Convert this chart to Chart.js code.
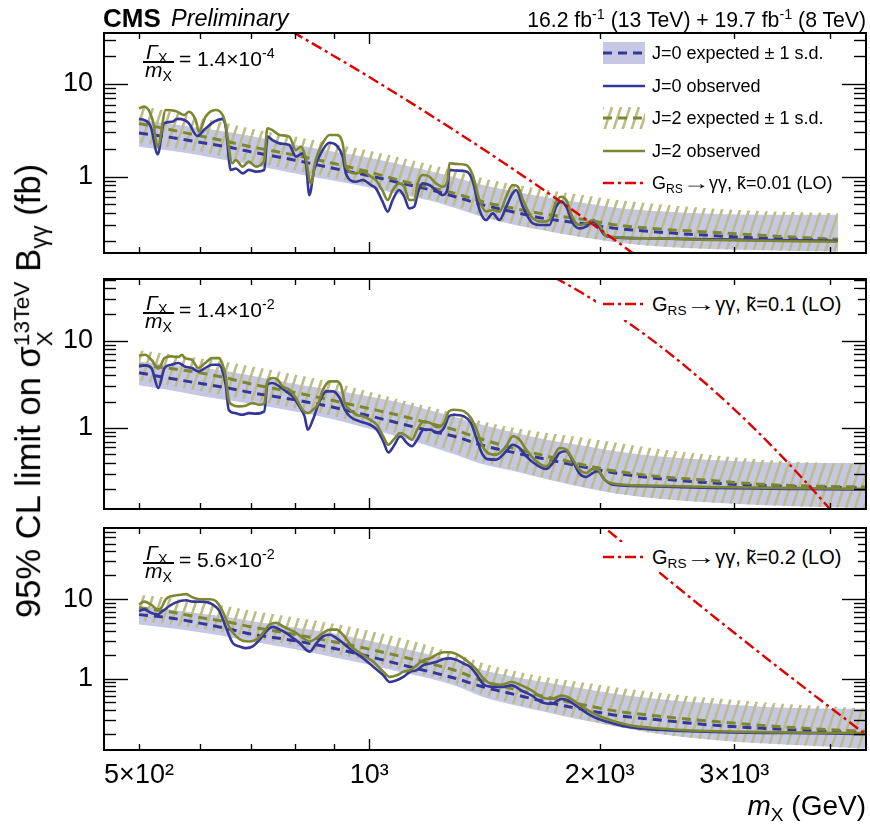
<!DOCTYPE html>
<html>
<head>
<meta charset="utf-8">
<title>CMS diphoton limits</title>
<script src="https://cdn.jsdelivr.net/npm/chart.js@4.4.1/dist/chart.umd.min.js"></script>
<style>
  html, body { margin:0; padding:0; background:#fff; }
  body { position:relative; width:870px; height:831px; overflow:hidden;
         font-family:"Liberation Sans", Arial, Helvetica, sans-serif; color:#000; }
  canvas { position:absolute; left:0; }
  .t { position:absolute; white-space:nowrap; line-height:1; }
  sup.s { font-size:0.68em; vertical-align:0.55em; line-height:0; }
  sub.s { font-size:0.68em; vertical-align:-0.3em; line-height:0; }
  .bar { position:absolute; height:1.6px; background:#000; }
  .legbox { position:absolute; background:#fff; }
  .sym { position:absolute; }
  .arr { display:inline-block; transform:scaleX(1.5); margin:0 0.22em; }
</style>
</head>
<body>
<canvas id="c1" width="870" height="265" style="top:0px"></canvas>
<canvas id="c2" width="870" height="250" style="top:265px"></canvas>
<canvas id="c3" width="870" height="316" style="top:515px"></canvas>

<!-- header -->
<div class="t" style="left:103px;top:5px;font-size:26px;font-weight:bold;">CMS</div>
<div class="t" style="left:171px;top:7px;font-size:23.5px;font-style:italic;">Preliminary</div>
<div class="t" style="right:4px;top:9px;font-size:21.2px;">16.2 fb<sup class="s">-1</sup> (13 TeV) + 19.7 fb<sup class="s">-1</sup> (8 TeV)</div>

<!-- axis titles -->
<div class="t" style="left:33px;top:391px;font-size:34.6px;transform:translate(-50%,-50%) rotate(-90deg);">95% CL limit on σ<span style="display:inline-block;vertical-align:-0.5em;font-size:0.66em;line-height:1.0;text-align:left;"><span style="display:block">13TeV</span><span style="display:block">X</span></span> B<sub class="s">γγ</sub> (fb)</div>
<div class="t" style="right:4px;top:792px;font-size:28px;"><i>m</i><sub class="s">X</sub> (GeV)</div>

<!-- width labels -->
<div class="t" style="left:146px;top:41px;font-size:21px;"><i>Γ</i><sub class="s">X</sub></div>
<div class="bar" style="left:143px;top:61px;width:31px;"></div>
<div class="t" style="left:145px;top:59px;font-size:21px;"><i>m</i><sub class="s">X</sub></div>
<div class="t" style="left:179px;top:48px;font-size:21px;">= 1.4×10<sup class="s">-4</sup></div>

<div class="t" style="left:146px;top:292px;font-size:21px;"><i>Γ</i><sub class="s">X</sub></div>
<div class="bar" style="left:143px;top:312px;width:31px;"></div>
<div class="t" style="left:145px;top:310px;font-size:21px;"><i>m</i><sub class="s">X</sub></div>
<div class="t" style="left:179px;top:299px;font-size:21px;">= 1.4×10<sup class="s">-2</sup></div>

<div class="t" style="left:146px;top:542px;font-size:21px;"><i>Γ</i><sub class="s">X</sub></div>
<div class="bar" style="left:143px;top:562px;width:31px;"></div>
<div class="t" style="left:145px;top:560px;font-size:21px;"><i>m</i><sub class="s">X</sub></div>
<div class="t" style="left:179px;top:549px;font-size:21px;">= 5.6×10<sup class="s">-2</sup></div>

<!-- legend panel 1 -->
<svg class="sym" style="left:603px;top:42px" width="42" height="22"><rect width="42" height="22" fill="#c6c7e5"/><line x1="0" y1="11" x2="42" y2="11" stroke="#34379a" stroke-width="3" stroke-dasharray="9 6"/></svg>
<div class="t" style="left:652px;top:44px;font-size:18px;">J=0 expected ± 1 s.d.</div>
<svg class="sym" style="left:603px;top:75px" width="42" height="22"><line x1="0" y1="11" x2="42" y2="11" stroke="#34379a" stroke-width="2.6"/></svg>
<div class="t" style="left:652px;top:77px;font-size:18px;">J=0 observed</div>
<svg class="sym" style="left:603px;top:107px" width="42" height="22"><defs><pattern id="hp" width="9" height="27" patternUnits="userSpaceOnUse"><path d="M-9,27 L0,0 M0,27 L9,0 M9,27 L18,0" stroke="#bcbc85" stroke-width="2.6"/></pattern></defs><rect width="42" height="22" fill="url(#hp)"/><line x1="0" y1="11" x2="42" y2="11" stroke="#7d8630" stroke-width="3" stroke-dasharray="9 6"/></svg>
<div class="t" style="left:652px;top:109px;font-size:18px;">J=2 expected ± 1 s.d.</div>
<svg class="sym" style="left:603px;top:140px" width="42" height="22"><line x1="0" y1="11" x2="42" y2="11" stroke="#7d8630" stroke-width="2.6"/></svg>
<div class="t" style="left:652px;top:142px;font-size:18px;">J=2 observed</div>
<svg class="sym" style="left:603px;top:172px" width="42" height="22"><line x1="0" y1="11" x2="42" y2="11" stroke="#e00000" stroke-width="2.4" stroke-dasharray="11 4 3 4"/></svg>
<div class="t" style="left:652px;top:174px;font-size:18px;">G<sub class="s">RS</sub><span class="arr">→</span>γγ, k&#771;=0.01 (LO)</div>

<!-- legend panel 2 -->
<div class="legbox" style="left:596px;top:289px;width:262px;height:31px;"></div>
<svg class="sym" style="left:603px;top:293px" width="42" height="22"><line x1="0" y1="11" x2="42" y2="11" stroke="#e00000" stroke-width="2.4" stroke-dasharray="11 4 3 4"/></svg>
<div class="t" style="left:652px;top:294px;font-size:20px;">G<sub class="s">RS</sub><span class="arr">→</span>γγ, k&#771;=0.1 (LO)</div>

<!-- legend panel 3 -->
<div class="legbox" style="left:596px;top:542px;width:262px;height:30px;"></div>
<svg class="sym" style="left:603px;top:546px" width="42" height="22"><line x1="0" y1="11" x2="42" y2="11" stroke="#e00000" stroke-width="2.4" stroke-dasharray="11 4 3 4"/></svg>
<div class="t" style="left:652px;top:547px;font-size:20px;">G<sub class="s">RS</sub><span class="arr">→</span>γγ, k&#771;=0.2 (LO)</div>

<script>
// ---------------- axes ----------------
const xMin = 450, xMax = 4460;
const xTickValues = [500, 1000, 2000, 3000];
const xTickLabels = ['5×10²', '10³', '2×10³', '3×10³'];
const yTickValues = [1, 10];
const yTickLabels = ['1', '10'];
const p1YRange = [0.149, 35.6];
const p2YRange = [0.118, 51];
const p3YRange = [0.126, 79];

// ---------------- panel 1 (Γ/m = 1.4e-4) ----------------
const p1BandMass = [500,550,600,650,700,800,900,1000,1100,1200,1300,1400,1550,1700,1900,2100,2400,2800,3300,4100];
const p1J0Exp = [2.95,2.65,2.35,2.1,1.85,1.5,1.22,1.02,0.85,0.72,0.6,0.5,0.41,0.35,0.31,0.275,0.25,0.23,0.215,0.205];
const p1J0Hi  = [4.1,3.7,3.35,3.05,2.75,2.2,1.85,1.6,1.35,1.15,0.97,0.82,0.69,0.6,0.52,0.46,0.42,0.395,0.385,0.385];
const p1J0Lo  = [2.1,1.9,1.7,1.5,1.35,1.08,0.9,0.76,0.64,0.55,0.45,0.37,0.3,0.26,0.22,0.195,0.175,0.165,0.16,0.155];
const p1J2Exp = [3.75,3.2,2.75,2.4,2.1,1.7,1.38,1.12,0.9,0.76,0.65,0.54,0.45,0.39,0.345,0.3,0.27,0.25,0.23,0.21];
const p1J2Hi  = [5.9,5.0,4.3,3.8,3.3,2.7,2.25,1.9,1.6,1.35,1.15,0.97,0.82,0.72,0.63,0.56,0.5,0.45,0.42,0.4];
const p1J2Lo  = [2.3,2.05,1.85,1.62,1.45,1.16,0.96,0.8,0.67,0.57,0.47,0.38,0.305,0.262,0.22,0.195,0.175,0.165,0.16,0.155];
const p1J0Obs = [[500,4.18],[508,4.08],[518,3.46],[529,1.74],[539,3.75],[553,3.91],[561,4.2],[573,4.08],[581,3.75],[596,2.74],[608,3.18],[627,3.91],[643,4.2],[649,3.46],[659,1.18],[669,1.22],[683,1.08],[696,1.18],[711,1.13],[729,1.18],[736,2.7],[747,2.48],[763,2.28],[786,2.19],[802,1.64],[818,1.78],[826,1.45],[835,0.63],[847,1.18],[869,1.93],[887,2.32],[905,2.19],[923,1.64],[932,1.08],[961,0.879],[980,0.917],[1005,0.809],[1020,0.745],[1041,0.535],[1057,0.417],[1073,0.557],[1094,0.715],[1111,0.605],[1128,0.453],[1145,0.472],[1157,0.658],[1174,0.844],[1198,0.809],[1222,0.715],[1247,0.631],[1266,0.745],[1273,1.18],[1299,1.16],[1339,1.13],[1365,0.9],[1393,0.44],[1421,0.339],[1450,0.4],[1480,0.339],[1510,0.472],[1540,0.658],[1556,0.715],[1588,0.472],[1636,0.312],[1686,0.299],[1720,0.299],[1755,0.472],[1782,0.535],[1809,0.472],[1846,0.312],[1883,0.275],[1921,0.287],[1960,0.325],[1990,0.299],[2030,0.233],[2082,0.22],[2301,0.215],[2813,0.209],[4093,0.202]];
const p1J2Obs = [[500,5.46],[508,5.69],[521,4.08],[529,2.1],[542,5.23],[558,5.1],[573,4.62],[581,5.02],[593,4.08],[599,3.05],[611,4.43],[630,5.23],[643,4.62],[649,3.6],[662,1.39],[669,1.51],[683,1.28],[696,1.45],[711,1.28],[725,1.39],[729,1.51],[736,3.32],[747,3.18],[763,2.81],[786,2.7],[802,1.93],[814,2.1],[826,1.57],[839,0.844],[851,1.51],[869,2.28],[887,2.81],[905,2.81],[923,2.28],[932,1.28],[961,1.08],[980,1.13],[1005,1.0],[1020,0.917],[1041,0.7],[1057,0.557],[1073,0.715],[1094,0.844],[1111,0.776],[1128,0.557],[1145,0.557],[1157,0.844],[1174,1.04],[1198,1.0],[1222,0.844],[1247,0.776],[1266,0.917],[1273,1.39],[1299,1.37],[1339,1.33],[1365,1.04],[1393,0.557],[1421,0.42],[1450,0.435],[1480,0.417],[1510,0.605],[1540,0.809],[1564,0.776],[1588,0.557],[1636,0.353],[1686,0.325],[1720,0.339],[1755,0.535],[1782,0.605],[1809,0.557],[1846,0.353],[1883,0.299],[1921,0.312],[1960,0.339],[2000,0.299],[2041,0.228],[2301,0.215],[2813,0.206],[4093,0.197]];
const p1Theory = [[750,47.6],[800,35.2],[900,20.0],[1000,11.9],[1100,7.32],[1200,4.66],[1300,3.05],[1400,2.05],[1500,1.40],[1600,0.978],[1700,0.694],[1800,0.50],[1900,0.365],[2000,0.27],[2100,0.202],[2200,0.153],[2300,0.117]];

// ---------------- panel 2 (Γ/m = 1.4e-2) ----------------
const p2BandMass = [500,550,600,650,700,800,900,1000,1100,1200,1300,1400,1550,1700,1900,2100,2400,2800,3300,3900,4600];
const p2J0Exp = [4.3,3.7,3.25,2.9,2.55,2.1,1.72,1.38,1.12,0.93,0.79,0.64,0.52,0.44,0.36,0.305,0.262,0.235,0.218,0.21,0.205];
const p2J0Hi  = [5.8,5.3,4.9,4.5,4.0,3.2,2.7,2.3,1.95,1.6,1.32,1.1,0.88,0.74,0.63,0.54,0.47,0.43,0.405,0.397,0.397];
const p2J0Lo  = [3.1,2.7,2.35,2.1,1.9,1.55,1.25,0.98,0.78,0.62,0.49,0.39,0.32,0.26,0.21,0.178,0.155,0.14,0.13,0.124,0.12];
const p2J2Exp = [5.3,4.8,4.3,3.75,3.2,2.55,2.05,1.67,1.38,1.13,0.94,0.75,0.58,0.48,0.38,0.32,0.277,0.25,0.225,0.215,0.21];
const p2J2Hi  = [7.8,7.0,6.3,5.7,5.1,4.1,3.3,2.6,2.1,1.75,1.45,1.2,1.0,0.88,0.78,0.68,0.57,0.49,0.43,0.4,0.38];
const p2J2Lo  = [3.5,3.05,2.65,2.35,2.1,1.7,1.36,1.06,0.84,0.66,0.52,0.41,0.33,0.265,0.212,0.178,0.155,0.14,0.13,0.124,0.12];
const p2J0Obs = [[500,5.08],[509,5.22],[519,4.86],[530,2.87],[540,4.86],[551,5.31],[563,5.55],[574,5.08],[586,4.86],[598,4.45],[610,4.86],[623,5.31],[636,5.31],[642,4.65],[649,3.14],[655,1.62],[668,1.48],[682,1.42],[696,1.48],[710,1.46],[729,1.55],[736,3.14],[747,3.28],[763,3.0],[778,2.63],[794,2.3],[810,1.77],[823,1.36],[831,0.957],[844,1.25],[861,2.02],[879,2.63],[897,2.63],[915,2.2],[929,1.62],[943,1.36],[972,1.19],[1002,1.09],[1023,0.957],[1043,0.704],[1059,0.526],[1076,0.617],[1098,0.803],[1120,0.673],[1137,0.617],[1155,0.735],[1178,0.957],[1202,0.957],[1227,0.877],[1252,1.0],[1271,1.36],[1290,1.42],[1330,1.36],[1358,1.14],[1385,0.7],[1406,0.5],[1428,0.44],[1465,0.434],[1510,0.541],[1540,0.644],[1572,0.59],[1604,0.474],[1653,0.38],[1703,0.34],[1738,0.397],[1773,0.517],[1809,0.541],[1846,0.415],[1883,0.3],[1921,0.275],[1960,0.305],[1990,0.319],[2030,0.256],[2082,0.224],[2301,0.215],[2813,0.206],[3722,0.2],[4600,0.197]];
const p2J2Obs = [[500,6.74],[509,6.91],[519,6.06],[530,4.8],[540,6.33],[551,6.62],[563,6.5],[569,6.91],[574,6.33],[586,6.06],[598,4.86],[610,5.55],[623,6.33],[636,6.33],[642,5.55],[649,3.91],[655,2.11],[662,1.85],[675,1.77],[689,1.8],[703,1.93],[718,1.85],[729,1.93],[736,3.42],[747,3.74],[759,3.58],[770,3.0],[786,2.75],[802,2.2],[818,1.62],[831,1.48],[844,1.62],[856,1.85],[870,2.75],[888,3.42],[906,3.42],[919,3.0],[929,1.93],[943,1.62],[962,1.42],[982,1.36],[1002,1.25],[1023,1.09],[1043,0.803],[1059,0.644],[1076,0.735],[1098,0.877],[1120,0.803],[1137,0.735],[1155,0.957],[1178,1.19],[1202,1.14],[1227,1.02],[1252,1.14],[1271,1.55],[1290,1.62],[1330,1.55],[1358,1.3],[1385,0.9],[1406,0.62],[1428,0.52],[1465,0.495],[1510,0.617],[1540,0.803],[1572,0.735],[1604,0.565],[1653,0.415],[1703,0.364],[1738,0.453],[1773,0.59],[1809,0.565],[1846,0.434],[1883,0.333],[1921,0.305],[1960,0.34],[1990,0.333],[2030,0.256],[2082,0.231],[2301,0.219],[2813,0.211],[3722,0.204],[4600,0.2]];
const p2Theory = [[1650,68.4],[1761,51],[1900,35.0],[2081,21.2],[2300,11.5],[2500,6.56],[2812,2.75],[3000,1.64],[3200,0.953],[3400,0.557],[3544,0.381],[3800,0.196],[4000,0.118],[4200,0.0716]];

// ---------------- panel 3 (Γ/m = 5.6e-2) ----------------
const p3BandMass = [500,550,600,650,700,800,900,1000,1100,1200,1300,1400,1550,1700,1900,2100,2400,2800,3300,3900,4600];
const p3J0Exp = [6.4,5.8,5.0,4.3,3.65,3.0,2.4,1.9,1.5,1.22,1.0,0.8,0.63,0.51,0.41,0.345,0.3,0.26,0.235,0.218,0.207];
const p3J0Hi  = [8.2,7.4,6.6,6.0,5.3,4.4,3.7,3.0,2.45,2.0,1.65,1.3,1.05,0.9,0.75,0.64,0.55,0.49,0.44,0.42,0.415];
const p3J0Lo  = [4.8,4.3,3.85,3.4,2.95,2.35,1.85,1.5,1.2,1.0,0.8,0.6,0.46,0.38,0.3,0.25,0.2,0.17,0.152,0.14,0.128];
const p3J2Exp = [7.8,6.9,5.9,5.2,4.5,3.6,2.9,2.35,1.9,1.55,1.25,0.95,0.73,0.59,0.47,0.39,0.335,0.29,0.255,0.23,0.213];
const p3J2Hi  = [11.5,10.3,9.2,8.2,7.2,5.9,4.9,4.0,3.25,2.6,2.05,1.6,1.25,1.05,0.9,0.78,0.66,0.57,0.5,0.45,0.415];
const p3J2Lo  = [5.4,4.8,4.3,3.8,3.3,2.6,2.05,1.65,1.3,1.07,0.85,0.64,0.48,0.39,0.305,0.25,0.2,0.17,0.152,0.14,0.128];
const p3J0Obs = [[500,7.1],[508,7.45],[518,6.76],[529,6.43],[537,7.1],[548,8.22],[558,9.06],[576,9.71],[588,9.34],[606,9.34],[624,8.63],[637,7.1],[650,4.35],[663,2.8],[677,2.54],[690,2.42],[704,2.54],[719,3.09],[733,3.94],[748,4.48],[764,4.14],[779,3.75],[795,3.24],[811,2.8],[827,2.3],[836,2.19],[853,2.8],[870,3.4],[888,3.57],[906,3.24],[924,2.8],[953,2.19],[982,1.8],[1012,1.41],[1043,1.1],[1064,0.906],[1086,0.952],[1108,1.05],[1131,1.22],[1154,1.28],[1177,1.48],[1201,1.55],[1226,1.63],[1251,1.77],[1276,1.8],[1302,1.71],[1328,1.55],[1355,1.41],[1383,1.1],[1411,0.84],[1443,0.79],[1487,0.783],[1534,0.822],[1581,0.71],[1630,0.613],[1680,0.504],[1731,0.48],[1784,0.555],[1820,0.529],[1876,0.435],[1934,0.357],[1994,0.309],[2099,0.267],[2206,0.242],[2320,0.23],[2565,0.219],[3137,0.208],[3836,0.205],[4600,0.199]];
const p3J2Obs = [[500,8.63],[508,9.34],[518,8.63],[529,7.45],[534,7.67],[542,10.0],[553,11.0],[567,11.4],[576,11.6],[588,10.5],[600,10.0],[618,10.0],[630,9.52],[643,7.1],[657,4.35],[670,3.4],[683,3.0],[697,2.94],[711,3.09],[726,3.75],[741,4.8],[756,5.04],[771,4.57],[787,4.14],[803,3.75],[819,3.24],[836,2.94],[853,3.24],[870,3.75],[888,4.14],[906,4.14],[924,3.57],[953,2.42],[982,1.99],[1012,1.63],[1043,1.22],[1064,1.05],[1086,1.1],[1108,1.22],[1131,1.28],[1154,1.48],[1177,1.71],[1201,1.8],[1226,2.02],[1251,2.15],[1276,2.15],[1302,2.02],[1328,1.8],[1355,1.55],[1383,1.28],[1411,1.0],[1443,0.86],[1487,0.838],[1534,0.906],[1581,0.822],[1630,0.71],[1680,0.583],[1731,0.555],[1784,0.613],[1820,0.583],[1876,0.48],[1934,0.394],[1994,0.34],[2099,0.285],[2206,0.254],[2320,0.242],[2565,0.225],[3137,0.213],[3836,0.208],[4600,0.205]];
const p3Theory = [[1950,110],[2030,80],[2200,42.2],[2400,21.3],[2600,11.4],[2800,6.41],[3000,3.78],[3200,2.31],[3400,1.46],[3600,0.953],[3800,0.637],[4000,0.436],[4200,0.305],[4420,0.21],[4600,0.157]];

// ---------------- drawing ----------------
const FONT = '"Liberation Sans", Arial, Helvetica, sans-serif';
Chart.defaults.font.family = FONT;
Chart.defaults.color = '#000';
const COL = { band0:'#c6c7e5', line0:'#34379a', line2:'#7d8630', hatch:'#bcbc85', theory:'#e00000' };

function hatchPattern(ctx) {
  const W = 9, H = 27;
  const cv = document.createElement('canvas'); cv.width = W; cv.height = H;
  const g = cv.getContext('2d');
  g.strokeStyle = COL.hatch; g.lineWidth = 2.6;
  g.beginPath();
  for (const o of [-W, 0, W]) { g.moveTo(o, H); g.lineTo(o + W, 0); }
  g.stroke();
  return ctx.createPattern(cv, 'repeat');
}
const pts = arr => arr.map(([x, y]) => ({x, y}));
const band = (ms, vs) => ms.map((m, i) => ({x: m, y: vs[i]}));

function datasets(p, ctx) {
  const base = {pointRadius:0, pointHoverRadius:0, fill:false};
  const smooth = {cubicInterpolationMode:'monotone'};
  return [
    {...base, ...smooth, data: pts(p.theory), borderColor: COL.theory, borderWidth: 2.4, borderDash:[11,4,3,4]},
    {...base, ...smooth, data: pts(p.j2obs), borderColor: COL.line2, borderWidth: 2.6},
    {...base, ...smooth, data: pts(p.j0obs), borderColor: COL.line0, borderWidth: 2.6},
    {...base, ...smooth, data: band(p.m, p.j2exp), borderColor: COL.line2, borderWidth: 3, borderDash:[9,6]},
    {...base, ...smooth, data: band(p.m, p.j0exp), borderColor: COL.line0, borderWidth: 3, borderDash:[9,6]},
    {...base, ...smooth, data: band(p.m, p.j2hi), borderWidth:0, borderColor:'rgba(0,0,0,0)', backgroundColor: hatchPattern(ctx), fill:'+1'},
    {...base, ...smooth, data: band(p.m, p.j2lo), borderWidth:0, borderColor:'rgba(0,0,0,0)'},
    {...base, ...smooth, data: band(p.m, p.j0hi), borderWidth:0, borderColor:'rgba(0,0,0,0)', backgroundColor: COL.band0, fill:'+1'},
    {...base, ...smooth, data: band(p.m, p.j0lo), borderWidth:0, borderColor:'rgba(0,0,0,0)'}
  ];
}

const frameTicks = {
  id: 'frameTicks',
  afterDraw(chart) {
    const {ctx, chartArea: a} = chart;
    const xs = chart.scales.x, ys = chart.scales.y;
    ctx.save();
    ctx.strokeStyle = '#000';
    ctx.lineWidth = 1.4;
    const seg = (x1, y1, x2, y2) => { ctx.beginPath(); ctx.moveTo(x1, y1); ctx.lineTo(x2, y2); ctx.stroke(); };
    for (let e = Math.floor(Math.log10(ys.min)); e <= Math.ceil(Math.log10(ys.max)); e++) {
      for (let k = 1; k <= 9; k++) {
        const v = k * Math.pow(10, e);
        if (v < ys.min || v > ys.max) continue;
        const py = Math.round(ys.getPixelForValue(v)) + 0.5;
        const L = k === 1 ? 24 : 12;
        seg(a.left, py, a.left + L, py);
        seg(a.right, py, a.right - L, py);
      }
    }
    for (let e = Math.floor(Math.log10(xs.min)); e <= Math.ceil(Math.log10(xs.max)); e++) {
      for (let k = 1; k <= 9; k++) {
        const v = k * Math.pow(10, e);
        if (v < xs.min || v > xs.max) continue;
        const px = Math.round(xs.getPixelForValue(v)) + 0.5;
        const L = k === 1 ? 11 : 6;
        seg(px, a.bottom, px, a.bottom - L);
        seg(px, a.top, px, a.top + L);
      }
    }
    ctx.lineWidth = 2;
    ctx.strokeRect(a.left, a.top, a.right - a.left, a.bottom - a.top);
    ctx.restore();
  }
};

function makeChart(id, p, yRange, padding, showX) {
  const canvas = document.getElementById(id);
  const ctx = canvas.getContext('2d');
  return new Chart(ctx, {
    type: 'line',
    data: { datasets: datasets(p, ctx) },
    options: {
      responsive: false, animation: false, devicePixelRatio: 1, events: [],
      layout: { padding },
      plugins: { legend: {display:false}, tooltip: {enabled:false} },
      scales: {
        x: {
          type: 'logarithmic', min: xMin, max: xMax, display: showX,
          grid: {display:false, drawTicks:false}, border: {display:false},
          afterBuildTicks: s => { s.ticks = xTickValues.map(v => ({value: v})); },
          ticks: {autoSkip:false, maxRotation:0, padding:9, color:'#000',
                  font:{family:FONT, size:27}, callback: (v, i) => xTickLabels[i]},
          afterFit: s => { s.height = showX ? 81 : 0; s.paddingLeft = 0; s.paddingRight = 0; }
        },
        y: {
          type: 'logarithmic', min: yRange[0], max: yRange[1],
          grid: {display:false, drawTicks:false}, border: {display:false},
          afterBuildTicks: s => { s.ticks = yTickValues.map(v => ({value: v})); },
          ticks: {autoSkip:false, padding:11, color:'#000',
                  font:{family:FONT, size:27}, callback: (v, i) => yTickLabels[i]},
          afterFit: s => { s.width = 104; s.paddingTop = 0; s.paddingBottom = 0; }
        }
      }
    },
    plugins: [frameTicks]
  });
}

makeChart('c1', {m:p1BandMass, j0exp:p1J0Exp, j0hi:p1J0Hi, j0lo:p1J0Lo, j2exp:p1J2Exp, j2hi:p1J2Hi, j2lo:p1J2Lo,
                 j0obs:p1J0Obs, j2obs:p1J2Obs, theory:p1Theory}, p1YRange, {left:0, right:4, top:33, bottom:12}, false);
makeChart('c2', {m:p2BandMass, j0exp:p2J0Exp, j0hi:p2J0Hi, j0lo:p2J0Lo, j2exp:p2J2Exp, j2hi:p2J2Hi, j2lo:p2J2Lo,
                 j0obs:p2J0Obs, j2obs:p2J2Obs, theory:p2Theory}, p2YRange, {left:0, right:4, top:14, bottom:6}, false);
makeChart('c3', {m:p3BandMass, j0exp:p3J0Exp, j0hi:p3J0Hi, j0lo:p3J0Lo, j2exp:p3J2Exp, j2hi:p3J2Hi, j2lo:p3J2Lo,
                 j0obs:p3J0Obs, j2obs:p3J2Obs, theory:p3Theory}, p3YRange, {left:0, right:4, top:13, bottom:0}, true);
</script>
</body>
</html>
